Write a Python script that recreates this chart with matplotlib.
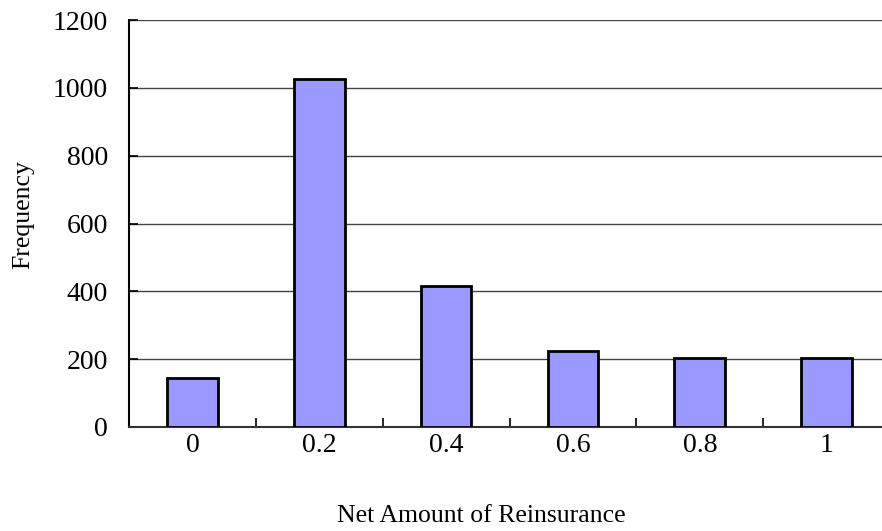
import matplotlib
matplotlib.use("Agg")
import matplotlib.pyplot as plt
import numpy as np

# Data
categories = ["0", "0.2", "0.4", "0.6", "0.8", "1"]
frequency = [145, 1025, 416, 223, 203, 202]
y_ticks = [0, 200, 400, 600, 800, 1000, 1200]

plt.rcParams["font.family"] = ["Liberation Serif", "DejaVu Serif"]

fig = plt.figure(figsize=(8.82, 5.31), dpi=100)
# axes run slightly past the right edge of the image, as in the reference
ax = fig.add_axes([129 / 882, 104 / 531, 761 / 882, 407 / 531])

x = np.arange(len(categories))
ax.bar(x, frequency, width=0.4, color="#9999FF", edgecolor="black", linewidth=2, zorder=3)

ax.set_xlim(-0.5, len(categories) - 0.5)
ax.set_ylim(0, 1200)
ax.set_yticks(y_ticks)
ax.set_yticklabels([str(v) for v in y_ticks], fontsize=20)
ax.set_xticks(x)
ax.set_xticklabels(categories, fontsize=20)
ax.tick_params(axis="x", length=0, pad=4)
ax.tick_params(axis="y", direction="in", length=6.5, width=1.2, pad=15)
# category separator ticks
ax.set_xticks(np.arange(0.5, len(categories) - 0.5, 1), minor=True)
ax.tick_params(axis="x", which="minor", direction="in", length=6.5, width=1.2)

ax.yaxis.grid(True, color="#444444", linewidth=1, zorder=0)
for side in ["top", "right"]:
    ax.spines[side].set_visible(False)
ax.spines["left"].set_linewidth(1.5)
ax.spines["bottom"].set_linewidth(1.5)
ax.spines["bottom"].set_color("#333333")

fig.text(481 / 882, 1 - 516 / 531, "Net Amount of Reinsurance", fontsize=18.5, ha="center", va="center")
fig.text(23 / 882, 1 - 215 / 531, "Frequency", fontsize=18.5, rotation=90, ha="center", va="center")

fig.savefig("out.png", dpi=100)
